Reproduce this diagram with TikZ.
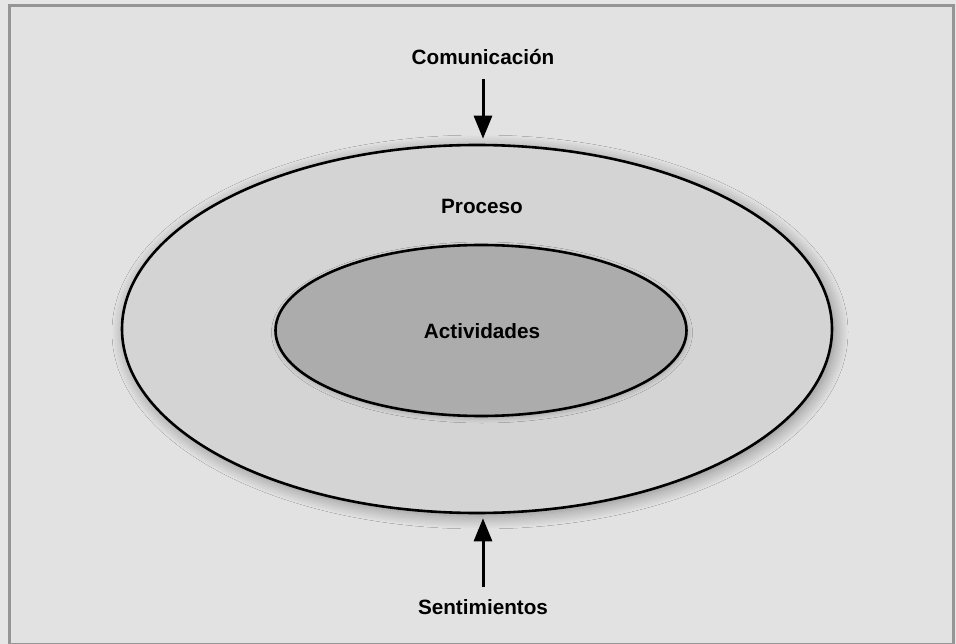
\documentclass[tikz,border=0pt]{standalone}
\usepackage{fontspec}
\setmainfont{Liberation Sans}
\usetikzlibrary{shapes.geometric,arrows.meta,shadows.blur}
\definecolor{bgc}{HTML}{E2E2E2}
\definecolor{outc}{HTML}{E6E6E6}
\definecolor{framec}{HTML}{959595}
\definecolor{ringc}{HTML}{D4D4D4}
\definecolor{corec}{HTML}{ACACAC}
\tikzset{
  lbl/.style={inner sep=0pt, font=\fontsize{20.7}{24}\selectfont\bfseries, text=black},
  ellbox/.style={ellipse, draw=black, line width=2.6pt, inner sep=0pt},
  arr/.style={line width=3pt, -{Triangle[width=18pt,length=23pt]}},
}
\begin{document}
\begin{tikzpicture}[x=1pt,y=-1pt]
\useasboundingbox (0,0) rectangle (956,644);
\fill[outc] (0,0) rectangle (956,644);
\draw[framec, line width=3pt, fill=bgc] (9.5,5.5) rectangle (953.8,644.5);
\node[ellbox, fill=ringc, minimum width=710pt, minimum height=368pt,
  blur shadow={shadow xshift=3pt, shadow yshift=-3pt, shadow blur radius=13pt, shadow blur steps=12, shadow opacity=40}]
  (outer) at (477,329) {};
\node[ellbox, fill=corec, minimum width=411pt, minimum height=171pt,
  blur shadow={shadow xshift=1pt, shadow yshift=-2pt, shadow blur radius=5pt, shadow opacity=25}]
  (inner) at (481,330.5) {};
\node[lbl] (proc) at (482,206) {Proceso};
\node[lbl] (act) at (482,331) {Actividades};
\node[lbl] (com) at (483,57) {Comunicación};
\node[lbl] (sen) at (483,607) {Sentimientos};
\draw[arr, shorten <=14pt, shorten >=5pt] (com.south) -- (com.south |- outer.north);
\draw[arr, shorten <=12pt, shorten >=4pt] (sen.north) -- (sen.north |- outer.south);
\end{tikzpicture}
\end{document}
